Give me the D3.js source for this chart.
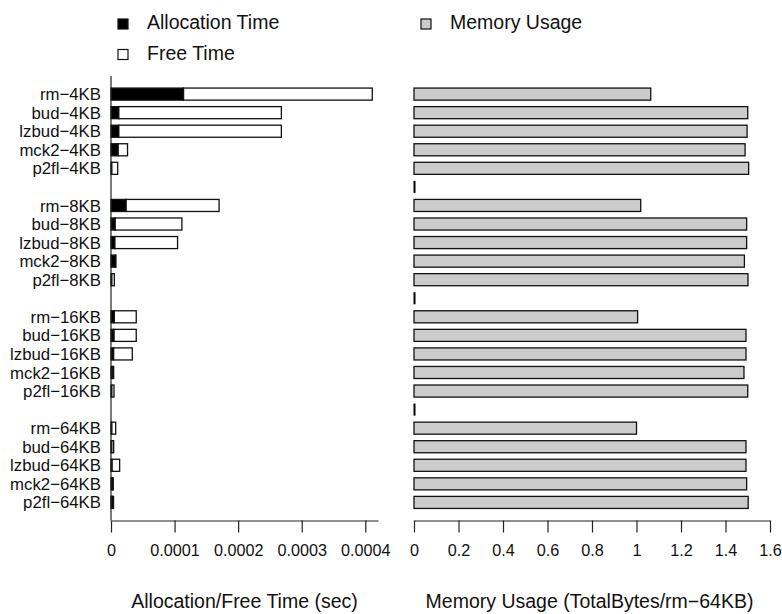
<!DOCTYPE html>
<html lang="en">
<head>
<meta charset="utf-8">
<title>Allocation/Free Time and Memory Usage</title>
<script src="https://cdn.jsdelivr.net/npm/d3@7/dist/d3.min.js"></script>
<style>
  body { margin: 0; background: #fff; }
  svg text { font-family: "Liberation Sans", Arial, Helvetica, sans-serif; fill: #111; }
  .row_label { font-size: 16.8px; }
  .legend_text { font-size: 19.5px; }
  .title_text { font-size: 19.5px; }
  .axis text { font-size: 16.2px; }
  .axis path, .axis line { stroke: #222; stroke-width: 1.2; }
</style>
</head>
<body>
<div id="chart"></div>
<script>
// allocators and block sizes
var allocators = ["rm", "bud", "lzbud", "mck2", "p2fl"];
var sizes = ["4KB", "8KB", "16KB", "64KB"];

// allocation time (sec), order: sizes x allocators
var allocTime = [
  0.000114, 0.000012, 0.000012, 0.000011, 0.000001,
  0.0000235, 0.0000063, 0.0000058, 0.0000073, 0.000001,
  0.000005, 0.0000045, 0.000004, 0.000002, 0.000001,
  0.000001, 0.000001, 0.0000015, 0.0000025, 0.000002
];
// free time (sec)
var freeTime = [
  0.000297, 0.000256, 0.000256, 0.000015, 0.0000095,
  0.0001465, 0.0001052, 0.0000989, 0.0000002, 0.0000042,
  0.0000347, 0.0000352, 0.0000295, 0.0000022, 0.0000037,
  0.0000064, 0.0000032, 0.0000121, 0.0000011, 0.000002
];
// memory usage (TotalBytes / rm-64KB)
var memUsage = [
  1.064, 1.500, 1.497, 1.488, 1.504,
  1.019, 1.495, 1.495, 1.485, 1.501,
  1.005, 1.492, 1.492, 1.483, 1.500,
  1.000, 1.492, 1.492, 1.495, 1.502
];

var timeTicks = [0, 0.0001, 0.0002, 0.0003, 0.0004];
var memTicks = [0, 0.2, 0.4, 0.6, 0.8, 1, 1.2, 1.4, 1.6];

// build rows, with an empty spacer row between the size groups
var rows = [];
var k = 0;
sizes.forEach(function(s, gi) {
  allocators.forEach(function(a) {
    rows.push({key: "r" + k, label: a + "\u2212" + s,
      alloc: allocTime[k], free: freeTime[k], mem: memUsage[k]});
    k++;
  });
  if (gi < sizes.length - 1) rows.push({key: "gap" + gi, gap: true, mem: 0});
});

var width = 782, height = 614;

var svg = d3.select("#chart").append("svg")
  .attr("width", width)
  .attr("height", height);

var y = d3.scaleBand()
  .domain(rows.map(function(d) { return d.key; }))
  .range([76, 520.5])
  .paddingInner(0.35)
  .paddingOuter(0.65);

var xTime = d3.scaleLinear().domain([0, 0.00042]).range([111, 378]);
var xMem = d3.scaleLinear().domain([0, 1.6]).range([414, 770]);

var bars = rows.filter(function(d) { return !d.gap; });
var gaps = rows.filter(function(d) { return d.gap; });

// left panel: stacked allocation + free time
var left = svg.append("g");
left.selectAll("rect.free")
  .data(bars).enter().append("rect")
  .attr("class", "free")
  .attr("x", function(d) { return xTime(d.alloc); })
  .attr("y", function(d) { return y(d.key); })
  .attr("width", function(d) { return xTime(d.alloc + d.free) - xTime(d.alloc); })
  .attr("height", y.bandwidth())
  .attr("fill", "#fff")
  .attr("stroke", "#111")
  .attr("stroke-width", 1.3);

left.selectAll("rect.alloc")
  .data(bars).enter().append("rect")
  .attr("class", "alloc")
  .attr("x", xTime(0))
  .attr("y", function(d) { return y(d.key); })
  .attr("width", function(d) { return xTime(d.alloc) - xTime(0); })
  .attr("height", y.bandwidth())
  .attr("fill", "#000")
  .attr("stroke", "#111")
  .attr("stroke-width", 1.3);

left.selectAll("text.row_label")
  .data(bars).enter().append("text")
  .attr("class", "row_label")
  .attr("x", xTime(0) - 10)
  .attr("y", function(d) { return y(d.key) + y.bandwidth() / 2; })
  .attr("dy", "0.36em")
  .attr("text-anchor", "end")
  .text(function(d) { return d.label; });

// vertical axis line of the left panel
left.append("line")
  .attr("x1", xTime(0)).attr("x2", xTime(0))
  .attr("y1", 76).attr("y2", 520.5)
  .attr("stroke", "#222").attr("stroke-width", 1.2);

// right panel: memory usage
var right = svg.append("g");
right.selectAll("rect.mem")
  .data(bars).enter().append("rect")
  .attr("class", "mem")
  .attr("x", xMem(0))
  .attr("y", function(d) { return y(d.key); })
  .attr("width", function(d) { return xMem(d.mem) - xMem(0); })
  .attr("height", y.bandwidth())
  .attr("fill", "#cccccc")
  .attr("stroke", "#111")
  .attr("stroke-width", 1.3);

// zero-height bars of the spacer rows show as a short stroke
right.selectAll("line.gap")
  .data(gaps).enter().append("line")
  .attr("class", "gap")
  .attr("x1", function(d) { return xMem(d.mem) + 0.5; })
  .attr("x2", function(d) { return xMem(d.mem) + 0.5; })
  .attr("y1", function(d) { return y(d.key); })
  .attr("y2", function(d) { return y(d.key) + y.bandwidth(); })
  .attr("stroke", "#000")
  .attr("stroke-width", 2);

// x axes
var fmtTime = function(d) { return d === 0 ? "0" : d3.format(".4f")(d); };
svg.append("g")
  .attr("class", "axis")
  .attr("transform", "translate(0,520.5)")
  .call(d3.axisBottom(xTime).tickValues(timeTicks).tickFormat(fmtTime)
    .tickSize(12).tickSizeOuter(0).tickPadding(12));

svg.append("g")
  .attr("class", "axis")
  .attr("transform", "translate(0,520.5)")
  .call(d3.axisBottom(xMem).tickValues(memTicks).tickFormat(d3.format("~g"))
    .tickSize(12).tickSizeOuter(0).tickPadding(12));

svg.selectAll(".axis text").attr("fill", "#111");

// axis titles
svg.append("text").attr("class", "title_text")
  .attr("x", 244.5).attr("y", 608)
  .attr("text-anchor", "middle")
  .text("Allocation/Free Time (sec)");

svg.append("text").attr("class", "title_text")
  .attr("x", 589.5).attr("y", 608)
  .attr("text-anchor", "middle")
  .text("Memory Usage (TotalBytes/rm\u221264KB)");

// legend
var legendItems = [
  {name: "Allocation Time", fill: "#000", x: 118, y: 19},
  {name: "Free Time", fill: "#fff", x: 118, y: 49.5},
  {name: "Memory Usage", fill: "#cccccc", x: 421, y: 19}
];
var legend = svg.append("g");
legendItems.forEach(function(d) {
  legend.append("rect")
    .attr("x", d.x).attr("y", d.y)
    .attr("width", 10).attr("height", 10)
    .attr("fill", d.fill)
    .attr("stroke", "#111").attr("stroke-width", 1.2);
  legend.append("text")
    .attr("class", "legend_text")
    .attr("x", d.x + 29).attr("y", d.y + 10)
    .text(d.name);
});
</script>
</body>
</html>
